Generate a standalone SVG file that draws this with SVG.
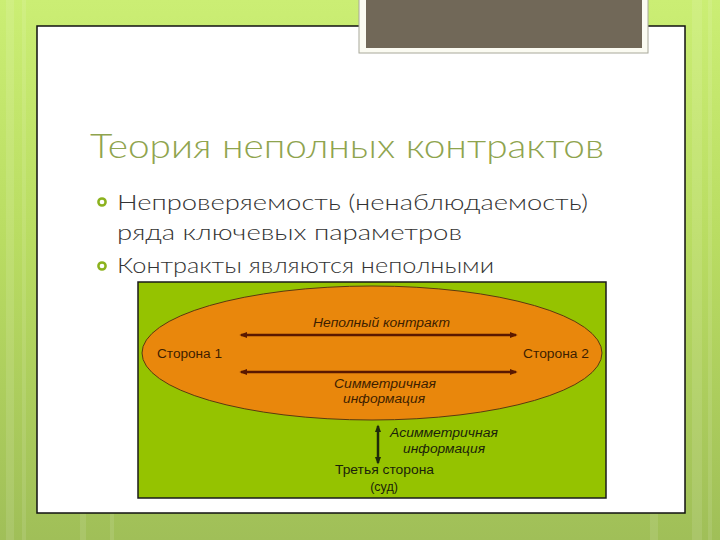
<svg xmlns="http://www.w3.org/2000/svg" width="720" height="540" viewBox="0 0 720 540">
  <defs>
    <linearGradient id="bg" x1="0" y1="0" x2="0" y2="1">
      <stop offset="0" stop-color="#cbee74"/>
      <stop offset="0.45" stop-color="#b9dc62"/>
      <stop offset="1" stop-color="#a0bf58"/>
    </linearGradient>
    <marker id="ahBrown" viewBox="0 0 10 10" refX="8" refY="5" markerWidth="3.2" markerHeight="3.2" orient="auto-start-reverse" markerUnits="strokeWidth">
      <path d="M0,1 L10,5 L0,9 Z" fill="#5a1800"/>
    </marker>
    <marker id="ahDark" viewBox="0 0 10 10" refX="8" refY="5" markerWidth="3.2" markerHeight="3.2" orient="auto-start-reverse" markerUnits="strokeWidth">
      <path d="M0,1 L10,5 L0,9 Z" fill="#1e2a0a"/>
    </marker>
  </defs>
  <style>
    .title { font-family: "Lato", "Liberation Sans", "DejaVu Sans", sans-serif; font-weight: 300; font-size: 34px; fill: #8fa44e; }
    .bullet { font-family: "Lato", "Liberation Sans", "DejaVu Sans", sans-serif; font-weight: 300; font-size: 22px; fill: #333333; }
    .dot { fill: none; stroke: #8cb21e; stroke-width: 2.5; }
    .lbl { font-family: "Liberation Sans", Arial, sans-serif; font-size: 12.5px; }
    .it { font-style: italic; }
    .onOrange { fill: #3d1e00; }
    .onGreen { fill: #1a1f0a; }
    .arrowB { stroke: #5a1800; stroke-width: 2.5; fill: none; }
    .arrowD { stroke: #1e2a0a; stroke-width: 2.5; fill: none; }
  </style>

  <!-- background -->
  <rect x="0" y="0" width="720" height="540" fill="url(#bg)"/>
  <g opacity="0.1" fill="#ffffff">
    <rect x="6" y="0" width="8" height="540"/>
    <rect x="22" y="0" width="4" height="540"/>
    <rect x="692" y="0" width="10" height="540"/>
    <rect x="708" y="0" width="4" height="540"/>
    <rect x="80" y="513" width="6" height="27"/>
    <rect x="110" y="513" width="4" height="27"/>
    <rect x="650" y="513" width="8" height="27"/>
  </g>

  <!-- slide panel -->
  <rect x="37" y="26" width="648" height="487" fill="#ffffff" stroke="#111111" stroke-width="1.5"/>

  <!-- top grey box -->
  <rect x="359" y="-5" width="289" height="58" fill="#fbfbf2" stroke="#a8a89a" stroke-width="1"/>
  <rect x="366" y="-5" width="276" height="53" fill="#716858"/>

  <!-- title -->
  <text class="title" x="90" y="158" textLength="514" lengthAdjust="spacingAndGlyphs">Теория неполных контрактов</text>

  <!-- bullets -->
  <circle class="dot" cx="102" cy="202" r="3.6"/>
  <text class="bullet" x="117" y="210" textLength="471" lengthAdjust="spacingAndGlyphs">Непроверяемость (ненаблюдаемость)</text>
  <text class="bullet" x="117" y="240" textLength="345" lengthAdjust="spacingAndGlyphs">ряда ключевых параметров</text>
  <circle class="dot" cx="102" cy="266" r="3.6"/>
  <text class="bullet" x="117" y="273" textLength="377" lengthAdjust="spacingAndGlyphs">Контракты являются неполными</text>

  <!-- diagram -->
  <g id="frame">
    <rect x="138" y="282" width="468" height="216" fill="#95c300" stroke="#1a1a1a" stroke-width="1.5"/>
  </g>
  <g id="contract-ellipse">
    <ellipse cx="372" cy="353" rx="230" ry="67" fill="#e9870c" stroke="#5a3a10" stroke-width="1"/>
  </g>

  <g id="connectors">
    <line class="arrowB" x1="241" y1="335" x2="516" y2="335" marker-start="url(#ahBrown)" marker-end="url(#ahBrown)"/>
    <line class="arrowB" x1="241" y1="372" x2="516" y2="372" marker-start="url(#ahBrown)" marker-end="url(#ahBrown)"/>
    <line class="arrowD" x1="378" y1="426" x2="378" y2="463" marker-start="url(#ahDark)" marker-end="url(#ahDark)"/>
  </g>

  <g id="side1">
    <text class="lbl onOrange" x="157" y="358" textLength="65" lengthAdjust="spacingAndGlyphs">Сторона 1</text>
  </g>
  <g id="side2">
    <text class="lbl onOrange" x="523" y="358" textLength="66" lengthAdjust="spacingAndGlyphs">Сторона 2</text>
  </g>
  <g id="label-contract">
    <text class="lbl it onOrange" x="313" y="327" textLength="137" lengthAdjust="spacingAndGlyphs">Неполный контракт</text>
  </g>
  <g id="label-symmetric">
    <text class="lbl it onOrange" x="334" y="388" textLength="102" lengthAdjust="spacingAndGlyphs">Симметричная</text>
    <text class="lbl it onOrange" x="343" y="403" textLength="82" lengthAdjust="spacingAndGlyphs">информация</text>
  </g>
  <g id="label-asymmetric">
    <text class="lbl it onGreen" x="390" y="437" textLength="108" lengthAdjust="spacingAndGlyphs">Асимметричная</text>
    <text class="lbl it onGreen" x="403" y="453" textLength="82" lengthAdjust="spacingAndGlyphs">информация</text>
  </g>
  <g id="third-party">
    <text class="lbl onGreen" x="335" y="474" textLength="99" lengthAdjust="spacingAndGlyphs">Третья сторона</text>
    <text class="lbl onGreen" x="384" y="491" text-anchor="middle">(суд)</text>
  </g>
</svg>
